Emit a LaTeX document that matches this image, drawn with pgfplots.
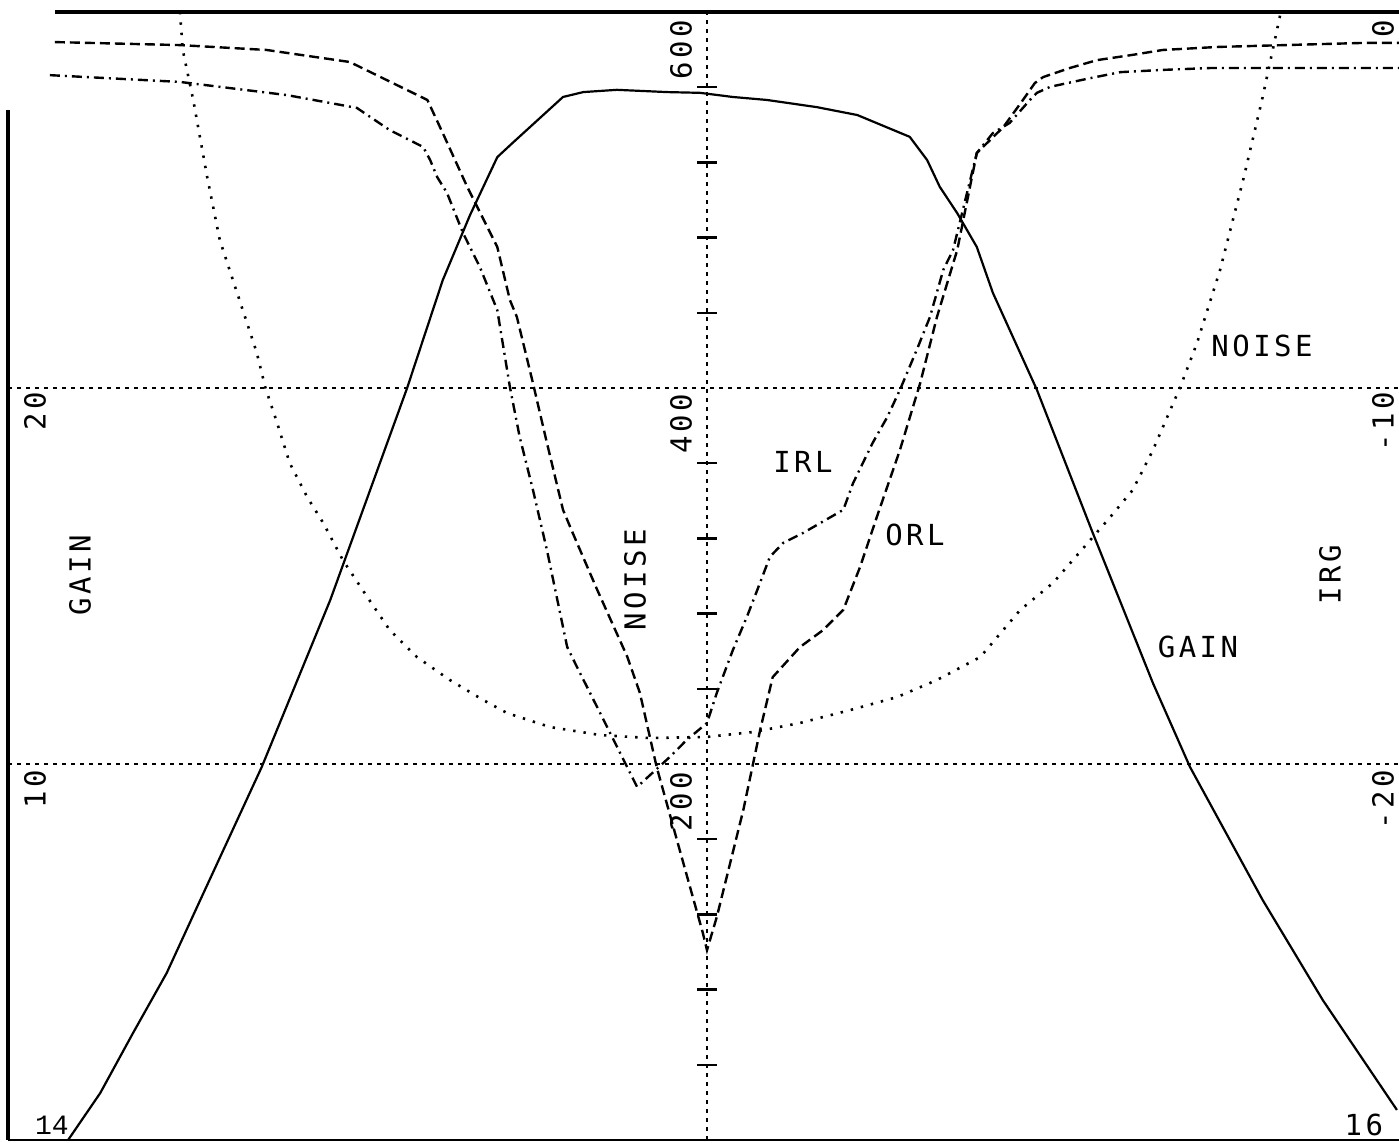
\documentclass[border=0pt]{standalone}
\usepackage{pgfplots}
\pgfplotsset{compat=1.18}
\usepackage{fontspec}
\newfontfamily\plotfont[LetterSpace=12]{DejaVu Sans Mono}
\newfontfamily\cornerfont{Liberation Mono}

% three overlaid panels share one frame: gain (dB), noise temperature, return loss (dB)
\pgfplotsset{
  panel/.style={width=695.5pt, height=564pt, scale only axis,
    xmin=14, xmax=15.99, axis lines=none, clip=false,
    at={(0,0)}, anchor=south west},
}
\tikzset{
  lbl/.style={font={\fontsize{14.5}{16}\selectfont\plotfont}, inner sep=0pt},
  gridline/.style={line width=1.3pt, dash pattern=on 2pt off 2.5pt},
}

\begin{document}
\begin{tikzpicture}
% ---------------- gain axis, 0 .. 30 dB ----------------
\begin{axis}[panel, ymin=0, ymax=30]
  % plotter frame
  \draw[line width=1.6pt] (rel axis cs:0.0338,1) -- (rel axis cs:1,1);
  \draw[line width=1.6pt] (rel axis cs:0,0.913) -- (rel axis cs:0,0);
  \draw[line width=1.1pt] (rel axis cs:0,0) -- (rel axis cs:1,0);
  % grid
  \addplot[gridline] coordinates {(14,20) (15.99,20)};
  \addplot[gridline] coordinates {(14,10) (15.99,10)};
  \addplot[gridline] coordinates {(15,0) (15,30)};
  % gain
  \addplot[line width=1.1pt] coordinates {
    (14.086,0.00) (14.132,1.25) (14.179,2.85) (14.227,4.44) (14.275,6.38)
    (14.363,9.92) (14.461,14.36) (14.571,20.00) (14.622,22.87) (14.661,24.60)
    (14.700,26.14) (14.722,26.52) (14.794,27.74) (14.823,27.87) (14.871,27.93)
    (14.943,27.87) (14.990,27.85) (15.037,27.74) (15.086,27.66) (15.157,27.47)
    (15.215,27.26) (15.290,26.68) (15.315,26.06) (15.333,25.35) (15.358,24.65)
    (15.386,23.75) (15.409,22.53) (15.472,19.95) (15.552,16.14) (15.638,12.15)
    (15.691,9.92) (15.795,6.38) (15.881,3.72) (15.987,0.80)
  };
  % left scale
  \node[lbl, rotate=90, anchor=east] at (rel axis cs:0.0194,0.6631) {20};
  \node[lbl, rotate=90, anchor=east] at (rel axis cs:0.0194,0.3280) {10};
  \node[lbl, rotate=90] at (rel axis cs:0.0518,0.5009) {GAIN};
  \node[inner sep=0pt, font={\fontsize{14}{16}\selectfont\cornerfont}] at (rel axis cs:0.0316,0.0133) {14};
  \node[lbl] at (rel axis cs:0.9748,0.0133) {16};
  % curve names
  \node[lbl] at (rel axis cs:0.8555,0.4371) {GAIN};
  \node[lbl] at (rel axis cs:0.9015,0.7039) {NOISE};
  \node[lbl] at (rel axis cs:0.5715,0.6010) {IRL};
  \node[lbl] at (rel axis cs:0.6520,0.5363) {ORL};
\end{axis}

% ---------------- noise axis, 0 .. 600 ----------------
\begin{axis}[panel, ymin=0, ymax=600]
  \addplot[only marks, mark=-, mark size=5pt, mark options={line width=1.2pt}]
    coordinates {(15,40) (15,80) (15,120) (15,160) (15,240) (15,280)
                 (15,320) (15,360) (15,440) (15,480) (15,520) (15,560)};
  \addplot[line width=1.3pt, dash pattern=on 1.2pt off 4pt] coordinates {
    (14.246,600.0) (14.250,579.8) (14.265,553.2) (14.285,512.2) (14.303,478.7)
    (14.325,453.7) (14.342,434.6) (14.356,418.6) (14.368,400.5) (14.385,381.4)
    (14.403,360.1) (14.428,342.0) (14.451,328.2) (14.479,308.5) (14.514,288.8)
    (14.546,271.3) (14.585,256.9) (14.632,244.7) (14.680,234.0) (14.714,227.1)
    (14.775,219.7) (14.847,215.4) (14.918,213.8) (15.000,214.4) (15.066,217.0)
    (15.133,221.8) (15.205,228.7) (15.272,235.6) (15.329,244.7) (15.391,256.9)
    (15.448,281.9) (15.495,296.3) (15.552,320.7) (15.577,331.4) (15.609,345.7)
    (15.638,367.0) (15.677,400.5) (15.701,423.9) (15.734,462.8) (15.767,510.6)
    (15.794,553.2) (15.820,598.4)
  };
  \node[lbl, rotate=90, anchor=east] at (rel axis cs:0.4838,0.9929) {600};
  \node[lbl, rotate=90, anchor=east] at (rel axis cs:0.4838,0.6613) {400};
  \node[lbl, rotate=90, anchor=east] at (rel axis cs:0.4838,0.3262) {200};
  \node[lbl, rotate=90] at (rel axis cs:0.4508,0.4965) {NOISE};
\end{axis}

% ---------------- return loss axis, -30 .. 0 dB ----------------
\begin{axis}[panel, ymin=-30, ymax=0]
  % ORL
  \addplot[line width=1.2pt, dash pattern=on 5pt off 2.5pt] coordinates {
    (14.067,-0.80) (14.246,-0.88) (14.370,-1.01) (14.489,-1.33) (14.600,-2.34)
    (14.622,-3.22) (14.657,-4.65) (14.700,-6.25) (14.718,-7.66) (14.728,-8.11)
    (14.751,-9.87) (14.771,-11.46) (14.794,-13.24) (14.808,-13.86) (14.843,-15.37)
    (14.886,-17.15) (14.904,-18.11) (14.928,-20.08) (14.961,-22.29) (14.994,-24.49)
    (15.000,-24.95) (15.014,-24.07) (15.052,-21.22) (15.076,-19.10) (15.094,-17.69)
    (15.133,-16.89) (15.166,-16.44) (15.195,-15.90) (15.219,-14.76) (15.243,-13.43)
    (15.276,-11.65) (15.305,-9.87) (15.329,-8.11) (15.358,-6.33) (15.386,-3.75)
    (15.424,-3.06) (15.452,-2.34) (15.469,-1.89) (15.481,-1.73) (15.519,-1.49)
    (15.558,-1.28) (15.609,-1.14) (15.652,-1.01) (15.730,-0.93) (15.944,-0.82)
    (15.990,-0.82)
  };
  % IRL
  \addplot[line width=1.2pt, dash pattern=on 5pt off 2.5pt on 1pt off 2.5pt] coordinates {
    (14.060,-1.68) (14.246,-1.86) (14.399,-2.21) (14.499,-2.55) (14.546,-3.14)
    (14.594,-3.59) (14.604,-3.94) (14.614,-4.39) (14.628,-4.81) (14.651,-5.88)
    (14.675,-6.78) (14.700,-7.93) (14.718,-9.97) (14.732,-11.30) (14.751,-12.71)
    (14.771,-14.31) (14.800,-16.89) (14.814,-17.42) (14.847,-18.64) (14.900,-20.61)
    (14.947,-19.81) (14.971,-19.36) (15.000,-18.91) (15.014,-18.11) (15.037,-16.97)
    (15.057,-16.09) (15.072,-15.37) (15.090,-14.49) (15.109,-14.12) (15.137,-13.86)
    (15.195,-13.24) (15.209,-12.53) (15.237,-11.46) (15.258,-10.77) (15.276,-10.05)
    (15.300,-8.99) (15.319,-8.11) (15.338,-6.86) (15.352,-6.33) (15.386,-3.75)
    (15.409,-3.22) (15.433,-2.95) (15.462,-2.34) (15.472,-2.15) (15.491,-1.99)
    (15.548,-1.76) (15.591,-1.60) (15.652,-1.54) (15.720,-1.49) (15.810,-1.49)
    (15.990,-1.49)
  };
  % right scale
  \node[lbl, rotate=90, anchor=east] at (rel axis cs:0.9885,0.9929) {0};
  \node[lbl, rotate=90, anchor=east] at (rel axis cs:0.9885,0.6631) {-10};
  \node[lbl, rotate=90, anchor=east] at (rel axis cs:0.9885,0.3280) {-20};
  \node[lbl, rotate=90] at (rel axis cs:0.9504,0.5009) {IRG};
\end{axis}

\pgfresetboundingbox
\useasboundingbox (-4pt,-1pt) rectangle (695.5pt,570pt);
\end{tikzpicture}
\end{document}
